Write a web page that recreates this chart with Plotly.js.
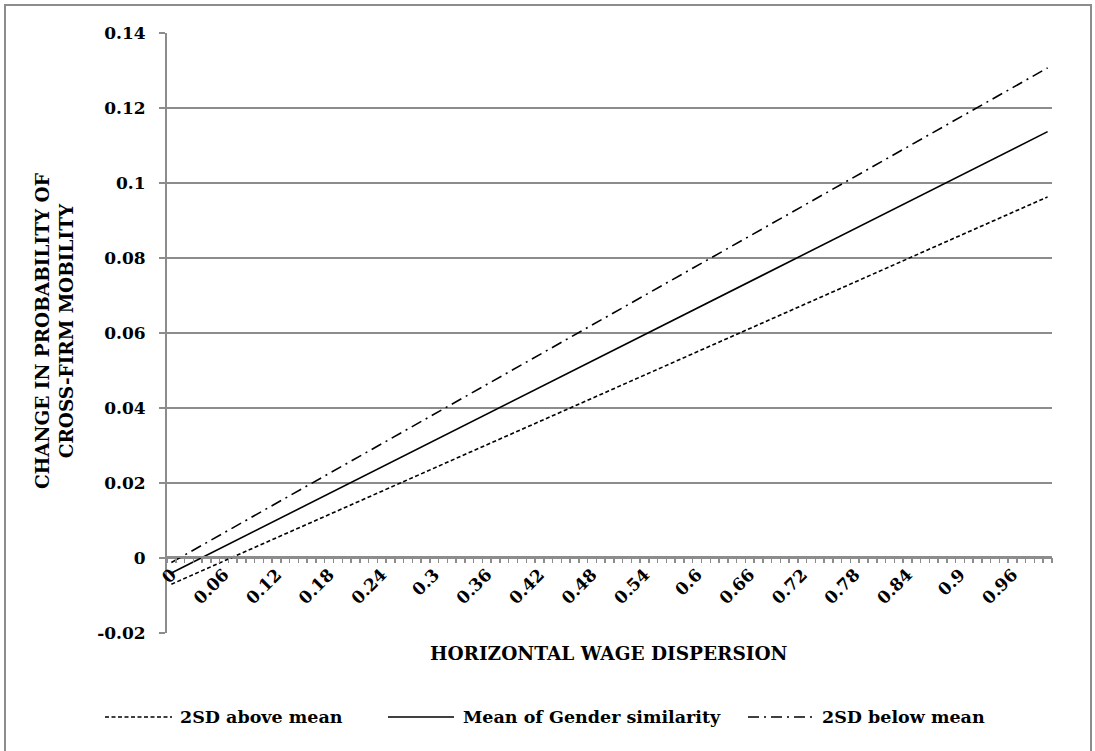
<!DOCTYPE html>
<html>
<head>
<meta charset="utf-8">
<script src="https://cdn.plot.ly/plotly-3.0.1.min.js"></script>
<style>
  html, body { margin: 0; padding: 0; background: #fff; }
  #wrap { position: relative; width: 1095px; height: 751px; overflow: hidden; }
  #chart { position: absolute; left: 0; top: 0; width: 1095px; height: 751px; }
  #frame { position: absolute; left: 4px; top: 4px; width: 1084px; height: 800px;
           border: 2px solid #8c8c8c; pointer-events: none; }
</style>
</head>
<body>
<div id="wrap">
  <div id="chart"></div>
  <div id="frame"></div>
</div>
<script>
// Horizontal wage dispersion (x) and change in probability of cross-firm mobility (y)
const xValues = [0, 1.0];
const above2SD = [-0.007, 0.0963];   // 2SD above mean
const meanSim  = [-0.004, 0.1137];   // Mean of Gender similarity
const below2SD = [-0.0012, 0.1307];  // 2SD below mean

const seriesNames = ["2SD above mean", "Mean of Gender similarity", "2SD below mean"];

const xTickVals = [0, 0.06, 0.12, 0.18, 0.24, 0.3, 0.36, 0.42, 0.48, 0.54, 0.6, 0.66, 0.72, 0.78, 0.84, 0.9, 0.96];
const xTickText = ["0", "0.06", "0.12", "0.18", "0.24", "0.3", "0.36", "0.42", "0.48", "0.54", "0.6", "0.66", "0.72", "0.78", "0.84", "0.9", "0.96"];
const yTickVals = [-0.02, 0, 0.02, 0.04, 0.06, 0.08, 0.1, 0.12, 0.14];
const yTickText = ["-0.02", "0", "0.02", "0.04", "0.06", "0.08", "0.1", "0.12", "0.14"];

const FONT = "DejaVu Serif, Liberation Serif, serif";
const GRID = "#8c8c8c";

const dashes = ["4px,2.5px", "solid", "11px,5px,2px,5px"];
const ys = [above2SD, meanSim, below2SD];

const traces = ys.map((y, i) => ({
  x: xValues, y: y, type: "scatter", mode: "lines", name: seriesNames[i],
  line: { color: "#000", width: 1.6, dash: dashes[i] },
  showlegend: false, hoverinfo: "skip"
}));

// custom legend
const legendSample = [[105, 172], [388, 454], [748, 813]];
const legendTextX = [178, 461, 820];
const L = 167, R = 1052, T = 33, B = 633;
const px2x = p => (p - L) / (R - L);
const py2y = p => (B - p) / (B - T);
const legY = py2y(717);

const shapes = legendSample.map((s, i) => ({
  type: "line", xref: "paper", yref: "paper",
  x0: px2x(s[0]), x1: px2x(s[1]), y0: legY, y1: legY,
  line: { color: "#000", width: 1.6, dash: dashes[i] }
}));

const annotations = seriesNames.map((n, i) => ({
  xref: "paper", yref: "paper", x: px2x(legendTextX[i]), y: legY,
  xanchor: "left", yanchor: "middle", text: "<b>" + n + "</b>", showarrow: false,
  font: { family: FONT, size: 17.5, color: "#000" }
}));

annotations.push({
  xref: "paper", yref: "paper", x: px2x(609), y: py2y(653),
  xanchor: "center", yanchor: "middle", showarrow: false,
  text: "<b>HORIZONTAL WAGE DISPERSION</b>",
  font: { family: FONT, size: 18.5, color: "#000" }
});
annotations.push({
  xref: "paper", yref: "paper", x: px2x(54), y: py2y(331),
  xanchor: "center", yanchor: "middle", showarrow: false, textangle: -90,
  text: "<b>CHANGE IN PROBABILITY OF<br>CROSS-FIRM MOBILITY</b>",
  font: { family: FONT, size: 18.5, color: "#000" }
});

const layout = {
  width: 1095, height: 751,
  margin: { l: L, r: 1095 - R, t: T, b: 751 - B, pad: 0 },
  paper_bgcolor: "rgba(0,0,0,0)", plot_bgcolor: "#fff",
  showlegend: false,
  font: { family: FONT, color: "#000" },
  xaxis: {
    range: [-0.005, 1.005], anchor: "free", position: py2y(557),
    tickmode: "array", tickvals: xTickVals, ticktext: xTickText.map(t => "<b>" + t + "</b>"),
    tickangle: -45, ticks: "", showgrid: false, zeroline: false,
    showline: true, linecolor: GRID, linewidth: 2,
    tickfont: { family: FONT, size: 17, color: "#000" },
    minor: { ticks: "outside", tick0: -0.005, dtick: 0.01, ticklen: 5, tickcolor: GRID, tickwidth: 1.5, showgrid: false }
  },
  yaxis: {
    range: [-0.02, 0.14], tickmode: "array", tickvals: yTickVals,
    ticktext: yTickText.map(t => "<b>" + t + "</b>"),
    ticks: "outside", ticklen: 6, tickcolor: GRID, tickwidth: 2,
    showgrid: true, gridcolor: GRID, gridwidth: 2, zeroline: false,
    showline: true, linecolor: GRID, linewidth: 2,
    ticklabelstandoff: 10,
    tickfont: { family: FONT, size: 17, color: "#000" }
  },
  shapes: shapes,
  annotations: annotations
};

Plotly.newPlot("chart", traces, layout, { staticPlot: true, displayModeBar: false });
</script>
</body>
</html>
